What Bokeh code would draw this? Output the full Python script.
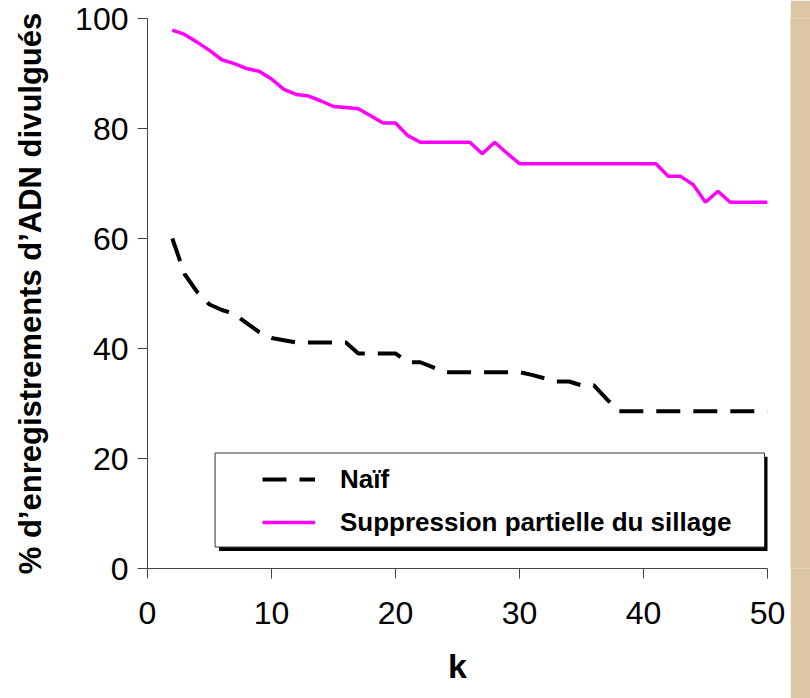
from bokeh.plotting import figure
from bokeh.models import (FixedTicker, Legend, LegendItem, BoxAnnotation, Range1d)
from bokeh.layouts import row
from bokeh.embed import file_html
from bokeh.resources import INLINE

# ---- data ----
k_values = list(range(2, 51))
naif = [60.0, 53.5, 50.3, 48.0, 47.0, 46.3, 44.6, 43.0, 41.9, 41.5, 41.1, 41.1, 41.1, 41.1, 41.1,
        39.1, 39.1, 39.1, 39.1, 37.5, 37.5, 36.6, 35.7, 35.7, 35.7, 35.7, 35.7, 35.7, 35.7,
        35.2, 34.6, 34.0, 34.0, 33.3, 33.3, 30.9, 28.6, 28.6, 28.6, 28.6, 28.6, 28.6, 28.6,
        28.6, 28.6, 28.6, 28.6, 28.6, 28.6]
suppression = [97.9, 97.1, 95.7, 94.2, 92.5, 91.8, 90.9, 90.4, 89.0, 87.1, 86.2, 85.9, 85.0, 84.0,
               83.8, 83.6, 82.3, 81.0, 81.0, 78.7, 77.5, 77.5, 77.5, 77.5, 77.5, 75.4, 77.5, 75.5,
               73.6, 73.6, 73.6, 73.6, 73.6, 73.6, 73.6, 73.6, 73.6, 73.6, 73.6, 73.6, 71.3, 71.3,
               69.8, 66.6, 68.6, 66.6, 66.6, 66.6, 66.6]
x_ticks = [0, 10, 20, 30, 40, 50]
y_ticks = [0, 20, 40, 60, 80, 100]
series_names = ["Naïf", "Suppression partielle du sillage"]
x_title = "k"
y_title = "% d’enregistrements d’ADN divulgués"

FONT = "Liberation Sans"

p = figure(width=790, height=698, output_backend="svg", toolbar_location=None,
           x_range=Range1d(0, 50), y_range=Range1d(0, 100),
           min_border_left=147, min_border_right=23, min_border_top=18, min_border_bottom=130)
p.outline_line_color = None
p.background_fill_color = "white"
p.border_fill_color = "white"
p.xgrid.visible = False
p.ygrid.visible = False

for ax in (p.xaxis[0], p.yaxis[0]):
    ax.axis_line_color = "#444444"
    ax.major_tick_line_color = "#444444"
    ax.major_tick_in = 0
    ax.major_tick_out = 10
    ax.minor_tick_line_color = None
    ax.major_label_text_font = FONT
    ax.major_label_text_font_size = "32px"
    ax.major_label_text_color = "black"
    ax.axis_label_text_font = FONT
    ax.axis_label_text_font_style = "bold"
    ax.axis_label_text_color = "black"

p.xaxis.ticker = FixedTicker(ticks=x_ticks)
p.yaxis.ticker = FixedTicker(ticks=y_ticks)
p.xaxis.axis_label = x_title
p.yaxis.axis_label = y_title
p.xaxis.axis_label_text_font_size = "34px"
p.yaxis.axis_label_text_font_size = "31px"
p.xaxis.major_label_standoff = 23
p.yaxis.major_label_standoff = 9
p.xaxis.axis_label_standoff = 20
p.yaxis.axis_label_standoff = 24

# legend frame with shadow (data units)
p.add_layout(BoxAnnotation(left=5.77, right=50.08, bottom=3.2, top=20.3,
                           fill_color="black", fill_alpha=1, line_color=None, level="overlay"))
p.add_layout(BoxAnnotation(left=5.45, right=49.76, bottom=3.9, top=21.0,
                           fill_color="white", fill_alpha=1, line_color="#333333", line_width=1,
                           line_alpha=1, level="overlay"))

r1 = p.line(k_values, naif, line_color="black", line_width=4, line_dash="24 13")
r2 = p.line(k_values, suppression, line_color="#FF00FF", line_width=3.5)

legend = Legend(items=[LegendItem(label=series_names[0], renderers=[r1]),
                       LegendItem(label=series_names[1], renderers=[r2])],
                location=(115, 28), padding=0, margin=0, spacing=7,
                glyph_width=53, glyph_height=36, label_height=36, label_standoff=25,
                label_text_font=FONT, label_text_font_style="bold",
                label_text_font_size="26px", label_text_color="black",
                border_line_alpha=0, background_fill_alpha=0)
p.add_layout(legend)

strip = figure(width=20, height=698, output_backend="svg", toolbar_location=None,
               x_range=Range1d(0, 1), y_range=Range1d(0, 1),
               min_border=0)
strip.axis.visible = False
strip.grid.visible = False
strip.outline_line_color = None
strip.background_fill_color = "#DCC6A5"
strip.border_fill_color = "#DCC6A5"

layout = row(p, strip, spacing=0)
open("out.html", "w").write(file_html(layout, INLINE))
